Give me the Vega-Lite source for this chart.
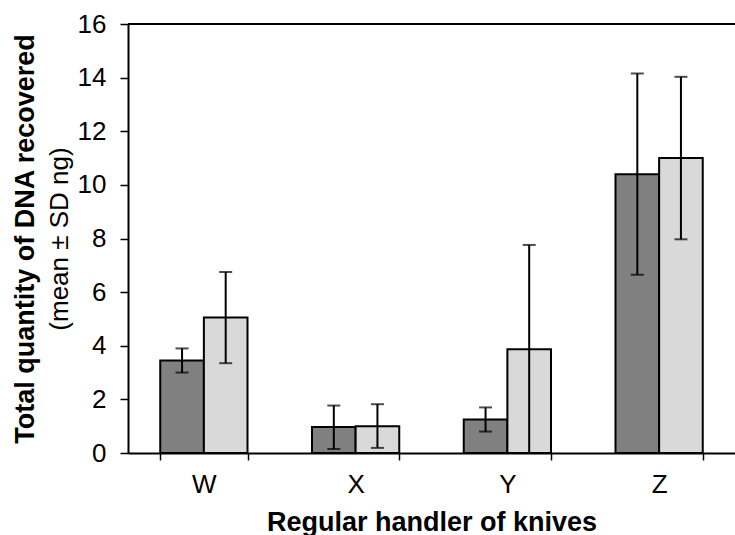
{
  "$schema": "https://vega.github.io/schema/vega-lite/v6.json",
  "autosize": {"type": "none"},
  "padding": {"left": 128, "top": 24, "right": 0, "bottom": 82},
  "width": 607,
  "height": 429,
  "background": "white",
  "config": {
    "view": {"stroke": null},
    "font": "Liberation Sans",
    "axis": {"grid": false, "domainColor": "black", "tickColor": "black", "labelColor": "black", "titleColor": "black", "domainWidth": 2, "tickWidth": 1.5}
  },
  "data": {
    "values": [
      {"handler": "W", "group": "Group 1", "mean": 3.45, "low": 3.0, "high": 3.9},
      {"handler": "W", "group": "Group 2", "mean": 5.05, "low": 3.35, "high": 6.75},
      {"handler": "X", "group": "Group 1", "mean": 0.97, "low": 0.15, "high": 1.77},
      {"handler": "X", "group": "Group 2", "mean": 1.0, "low": 0.19, "high": 1.82},
      {"handler": "Y", "group": "Group 1", "mean": 1.25, "low": 0.8, "high": 1.7},
      {"handler": "Y", "group": "Group 2", "mean": 3.87, "low": 0.0, "high": 7.76},
      {"handler": "Z", "group": "Group 1", "mean": 10.4, "low": 6.65, "high": 14.15},
      {"handler": "Z", "group": "Group 2", "mean": 11.0, "low": 7.97, "high": 14.03}
    ]
  },
  "resolve": {"axis": {"y": "independent"}},
  "layer": [
    {
      "mark": {"type": "bar", "stroke": "black", "strokeWidth": 2},
      "encoding": {
        "x": {
          "field": "handler", "type": "nominal",
          "scale": {"paddingInner": 0.425, "paddingOuter": 0.2125},
          "axis": {"title": "Regular handler of knives", "titleFontSize": 27, "titleFontWeight": "bold", "titlePadding": 12, "labelFontSize": 26, "labelAngle": 0, "labelPadding": 11, "tickBand": "extent", "tickSize": 7}
        },
        "xOffset": {"field": "group", "type": "nominal", "scale": {"paddingInner": 0, "paddingOuter": 0}},
        "y": {
          "field": "mean", "type": "quantitative",
          "scale": {"domain": [0, 16], "nice": false},
          "axis": {"orient": "left", "values": [0, 2, 4, 6, 8, 10, 12, 14, 16], "title": "Total quantity of DNA recovered", "titleFontSize": 27, "titleFontWeight": "bold", "titlePadding": 38, "labelFontSize": 26, "labelPadding": 14, "tickSize": 8}
        },
        "fill": {"field": "group", "type": "nominal", "scale": {"range": ["#808080", "#d9d9d9"]}, "legend": null}
      }
    },
    {
      "mark": {"type": "rule", "color": "black", "strokeWidth": 2},
      "encoding": {
        "x": {"field": "handler", "type": "nominal"},
        "xOffset": {"field": "group", "type": "nominal"},
        "y": {"field": "low", "type": "quantitative", "axis": null},
        "y2": {"field": "high"}
      }
    },
    {
      "mark": {"type": "tick", "color": "black", "thickness": 2, "size": 13, "orient": "horizontal"},
      "encoding": {
        "x": {"field": "handler", "type": "nominal"},
        "xOffset": {"field": "group", "type": "nominal"},
        "y": {"field": "low", "type": "quantitative", "axis": null}
      }
    },
    {
      "mark": {"type": "tick", "color": "black", "thickness": 2, "size": 13, "orient": "horizontal"},
      "encoding": {
        "x": {"field": "handler", "type": "nominal"},
        "xOffset": {"field": "group", "type": "nominal"},
        "y": {"field": "high", "type": "quantitative", "axis": null}
      }
    },
    {
      "mark": {"type": "rule", "color": "black", "strokeWidth": 2},
      "encoding": {
        "y": {
          "datum": 16, "type": "quantitative",
          "axis": {"orient": "left", "labels": false, "ticks": false, "domain": false, "minExtent": 0, "title": "(mean ± SD ng)", "titleFontSize": 26, "titleFontWeight": "normal", "titlePadding": 56}
        }
      }
    }
  ]
}
